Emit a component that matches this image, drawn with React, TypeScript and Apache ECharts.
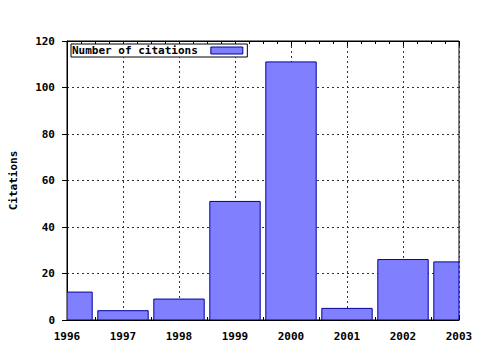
import React, { useEffect, useRef } from "react";
import * as echarts from "echarts";

const years = [1996, 1997, 1998, 1999, 2000, 2001, 2002, 2003];
const citations = [12, 4, 9, 51, 111, 5, 26, 25];
const yTicks = [0, 20, 40, 60, 80, 100, 120];
const seriesName = "Number of citations";
const yTitle = "Citations";

const FONT = "'DejaVu Sans Mono', 'Liberation Mono', monospace";

export default function App() {
  const ref = useRef<HTMLDivElement>(null);
  useEffect(() => {
    if (!ref.current) return;
    const chart = echarts.init(ref.current, null, { renderer: "svg" });
    const xCommon = {
      type: "value" as const,
      min: years[0],
      max: years[years.length - 1],
      interval: 1,
      axisLine: { show: true, lineStyle: { color: "#000", width: 1 } },
      axisTick: { show: true, inside: true, length: 5, lineStyle: { color: "#000" } },
      minorTick: { show: true, splitNumber: 4, length: 3, lineStyle: { color: "#000" } },
    };
    chart.setOption({
      animation: false,
      backgroundColor: "#fff",
      grid: { left: 64, right: 21, top: 41, bottom: 30, show: true, borderColor: "#000", borderWidth: 1 },
      legend: {
        show: true,
        left: 71,
        top: 44,
        align: "right",
        itemWidth: 32,
        itemHeight: 7,
        padding: [1, 4, 1, 1],
        borderColor: "#000",
        borderWidth: 1,
        borderRadius: 0,
        backgroundColor: "#fff",
        itemGap: 0,
        textStyle: { fontFamily: FONT, fontWeight: "bold", fontSize: 11, color: "#000", padding: [0, 8, 0, 0] },
        data: [{ name: seriesName, icon: "rect", itemStyle: { color: "#8080ff", borderColor: "#0000a0", borderWidth: 1 } }],
      },
      xAxis: [
        {
          ...xCommon,
          position: "bottom",
          axisLabel: {
            show: true,
            margin: 11,
            fontFamily: FONT,
            fontWeight: "bold",
            fontSize: 11,
            color: "#000",
            formatter: (v: number) => String(v),
          },
          splitLine: { show: true, lineStyle: { color: "#333", type: [2, 3], width: 1 } },
        },
        {
          ...xCommon,
          position: "top",
          axisLabel: { show: false },
          splitLine: { show: false },
        },
      ],
      yAxis: [
        {
          type: "value",
          min: yTicks[0],
          max: yTicks[yTicks.length - 1],
          interval: 20,
          name: yTitle,
          nameLocation: "middle",
          nameGap: 48,
          nameRotate: 90,
          nameTextStyle: { fontFamily: FONT, fontWeight: "bold", fontSize: 11, color: "#000" },
          axisLine: { show: true, lineStyle: { color: "#000" } },
          axisTick: { show: true, inside: false, length: 5, lineStyle: { color: "#000" } },
          axisLabel: { margin: 12, fontFamily: FONT, fontWeight: "bold", fontSize: 11, color: "#000" },
          splitLine: { show: true, lineStyle: { color: "#333", type: [2, 3], width: 1 } },
        },
      ],
      series: [
        {
          name: seriesName,
          type: "custom",
          xAxisIndex: 0,
          yAxisIndex: 0,
          clip: true,
          z: 3,
          itemStyle: { color: "#8080ff", borderColor: "#0000a0", borderWidth: 1 },
          encode: { x: 0, y: 1 },
          data: years.map((y, i) => [y, citations[i]]),
          renderItem: (params: any, api: any) => {
            const x = api.value(0);
            const v = api.value(1);
            const base = api.coord([x, 0]);
            const top = api.coord([x, v]);
            const w = api.size([1, 0])[0] * 0.9;
            const cs = params.coordSys;
            const shape = echarts.graphic.clipRectByRect(
              { x: base[0] - w / 2, y: top[1], width: w, height: base[1] - top[1] },
              { x: cs.x, y: cs.y, width: cs.width, height: cs.height }
            );
            if (!shape) return null;
            return {
              type: "rect",
              shape,
              style: { fill: "#8080ff", stroke: "#0000a0", lineWidth: 1 },
            };
          },
        },
      ],
    });
    return () => chart.dispose();
  }, []);
  return <div ref={ref} style={{ width: 480, height: 350, margin: -8 }} />;
}
